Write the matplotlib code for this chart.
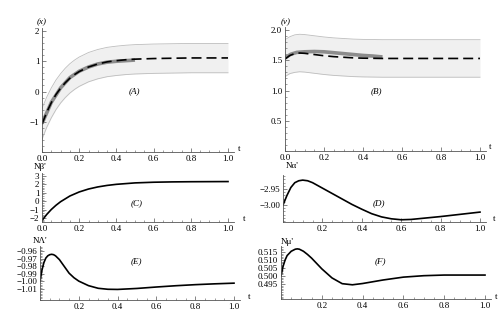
import matplotlib
matplotlib.use("Agg")
import matplotlib.pyplot as plt
from matplotlib.ticker import MultipleLocator

plt.rcParams['font.family'] = ['Liberation Serif', 'DejaVu Serif']
plt.rcParams['font.size'] = 6.5

W, H = 504, 328

# ---------------- data ----------------
tA = [0, 0.025, 0.05, 0.075, 0.1, 0.125, 0.15, 0.175, 0.2, 0.25, 0.3, 0.35, 0.4, 0.45, 0.5, 0.6, 0.7, 0.8, 0.9, 1.0]
meanA = [-1.08, -0.69, -0.37, -0.10, 0.11, 0.29, 0.44, 0.56, 0.66, 0.81, 0.91, 0.98, 1.02, 1.05, 1.07, 1.09, 1.10, 1.11, 1.11, 1.11]
upperA = [-0.56, -0.19, 0.12, 0.38, 0.59, 0.77, 0.92, 1.04, 1.14, 1.29, 1.39, 1.46, 1.50, 1.53, 1.55, 1.57, 1.58, 1.59, 1.59, 1.59]
lowerA = [-1.58, -1.19, -0.87, -0.60, -0.38, -0.20, -0.05, 0.07, 0.17, 0.32, 0.42, 0.49, 0.53, 0.56, 0.58, 0.60, 0.61, 0.62, 0.62, 0.62]
tA_obs = [0, 0.05, 0.1, 0.15, 0.2, 0.25, 0.3, 0.35, 0.4, 0.45, 0.5]
obsA = [-1.06, -0.36, 0.12, 0.46, 0.67, 0.81, 0.91, 0.97, 1.00, 1.02, 1.04]

tB = [0, 0.025, 0.05, 0.075, 0.1, 0.15, 0.2, 0.25, 0.3, 0.35, 0.4, 0.5, 0.6, 0.7, 0.8, 0.9, 1.0]
meanB = [1.52, 1.58, 1.61, 1.62, 1.615, 1.595, 1.575, 1.56, 1.55, 1.54, 1.535, 1.53, 1.53, 1.53, 1.53, 1.53, 1.53]
upperB = [1.84, 1.89, 1.92, 1.93, 1.925, 1.905, 1.885, 1.87, 1.86, 1.85, 1.845, 1.84, 1.84, 1.84, 1.84, 1.84, 1.84]
lowerB = [1.23, 1.28, 1.30, 1.31, 1.305, 1.285, 1.265, 1.25, 1.24, 1.23, 1.225, 1.22, 1.22, 1.22, 1.22, 1.22, 1.22]
tB_obs = [0, 0.03, 0.06, 0.1, 0.15, 0.2, 0.25, 0.3, 0.35, 0.4, 0.45, 0.5]
obsB = [1.54, 1.60, 1.63, 1.64, 1.645, 1.64, 1.625, 1.61, 1.595, 1.58, 1.57, 1.555]

tC = [0, 0.025, 0.05, 0.075, 0.1, 0.15, 0.2, 0.25, 0.3, 0.35, 0.4, 0.5, 0.6, 0.7, 0.8, 0.9, 1.0]
betaC = [-2.30, -1.59, -0.99, -0.49, -0.06, 0.62, 1.10, 1.45, 1.70, 1.88, 2.01, 2.18, 2.26, 2.30, 2.32, 2.33, 2.34]

tD = [0, 0.02, 0.04, 0.06, 0.08, 0.1, 0.125, 0.15, 0.2, 0.25, 0.3, 0.35, 0.4, 0.45, 0.5, 0.55, 0.6, 0.65, 0.7, 0.8, 0.9, 1.0]
alphaD = [-3.000, -2.970, -2.945, -2.930, -2.924, -2.922, -2.924, -2.930, -2.947, -2.964, -2.981, -2.998, -3.013, -3.027, -3.037, -3.043, -3.046, -3.045, -3.042, -3.036, -3.029, -3.022]

tE = [0, 0.01, 0.02, 0.03, 0.04, 0.05, 0.06, 0.07, 0.08, 0.1, 0.125, 0.15, 0.175, 0.2, 0.25, 0.3, 0.35, 0.4, 0.5, 0.6, 0.7, 0.8, 0.9, 1.0]
lambdaE = [-1.000, -0.985, -0.975, -0.969, -0.966, -0.9645, -0.964, -0.9645, -0.966, -0.971, -0.980, -0.989, -0.995, -0.9995, -1.0055, -1.009, -1.0103, -1.0105, -1.0092, -1.0073, -1.0056, -1.0042, -1.0031, -1.0022]

tF = [0, 0.01, 0.02, 0.03, 0.05, 0.07, 0.08, 0.09, 0.11, 0.13, 0.15, 0.2, 0.25, 0.3, 0.35, 0.4, 0.5, 0.6, 0.7, 0.8, 0.9, 1.0]
muF = [0.500, 0.506, 0.510, 0.5128, 0.5155, 0.5168, 0.517, 0.5168, 0.5155, 0.5135, 0.5112, 0.5045, 0.4988, 0.4952, 0.4945, 0.4953, 0.4975, 0.4993, 0.5002, 0.5006, 0.5006, 0.5006]

xticks_full = [0.0, 0.2, 0.4, 0.6, 0.8, 1.0]
xticks_part = [0.2, 0.4, 0.6, 0.8, 1.0]

# ---------------- layout helpers ----------------
fig = plt.figure(figsize=(W / 100, H / 100), dpi=100)


def make_ax(x0, x1px, ybot, ytop, xmax, ylim):
    width = (x1px - x0) * xmax
    ax = fig.add_axes([x0 / W, 1 - ybot / H, width / W, (ybot - ytop) / H])
    ax.set_xlim(0, xmax)
    ax.set_ylim(*ylim)
    for s in ['top', 'right']:
        ax.spines[s].set_visible(False)
    for s in ['left', 'bottom']:
        ax.spines[s].set_color('#555555')
        ax.spines[s].set_linewidth(0.6)
    ax.tick_params(direction='in', which='major', length=3, width=0.5, color='#555555', pad=2, labelsize=6.5)
    ax.tick_params(direction='in', which='minor', length=1.6, width=0.4, color='#555555')
    ax.xaxis.set_minor_locator(MultipleLocator(0.05))
    ax.set_facecolor('none')
    return ax


def px(x, y):
    return x / W, 1 - y / H


def label(x, y, s, size=6.5, style='normal', ha='center'):
    fig.text(*px(x, y), s, fontsize=size, style=style, ha=ha, va='center')


def set_xt(ax, ticks):
    ax.set_xticks(ticks)
    ax.set_xticklabels([f"{v:.1f}" for v in ticks])


def set_yt(ax, ticks, fmt):
    ax.set_yticks(ticks)
    ax.set_yticklabels([fmt(v).replace('-', '\u2212') for v in ticks])

band_face = '#f0f0f0'
band_edge = '#bdbdbd'
obs_color = '#8c8c8c'

# Panel A
axA = make_ax(42, 228, 152, 28, 1.03, (-2, 2.1))
axA.fill_between(tA, lowerA, upperA, color=band_face, lw=0)
axA.plot(tA, upperA, color=band_edge, lw=0.6)
axA.plot(tA, lowerA, color=band_edge, lw=0.6)
axA.plot(tA_obs, obsA, color=obs_color, lw=2.6, solid_capstyle='butt')
axA.plot(tA, meanA, color='black', lw=1.2, dashes=(6, 3))
set_xt(axA, xticks_full)
set_yt(axA, [-1, 0, 1, 2], lambda v: f"{v:d}")
axA.yaxis.set_minor_locator(MultipleLocator(0.2))

# Panel B
axB = make_ax(285, 480, 151, 27, 1.03, (0, 2.05))
axB.fill_between(tB, lowerB, upperB, color=band_face, lw=0)
axB.plot(tB, upperB, color=band_edge, lw=0.6)
axB.plot(tB, lowerB, color=band_edge, lw=0.6)
axB.plot(tB_obs, obsB, color=obs_color, lw=2.6, solid_capstyle='butt')
axB.plot(tB, meanB, color='black', lw=1.2, dashes=(6, 3))
set_xt(axB, xticks_full)
set_yt(axB, [0.5, 1.0, 1.5, 2.0], lambda v: f"{v:.1f}")
axB.yaxis.set_minor_locator(MultipleLocator(0.1))

# Panel C
axC = make_ax(42, 228, 222, 173, 1.03, (-2.48, 3.36))
axC.plot(tC, betaC, color='black', lw=1.2)
set_xt(axC, xticks_full)
set_yt(axC, [-2, -1, 0, 1, 2, 3], lambda v: f"{v:d}")
axC.yaxis.set_minor_locator(MultipleLocator(0.2))

# Panel D
axD = make_ax(283, 480, 222, 175, 1.03, (-3.053, -2.906))
axD.plot(tD, alphaD, color='black', lw=1.2)
set_xt(axD, xticks_part)
set_yt(axD, [-3.00, -2.95], lambda v: f"{v:.2f}")
axD.yaxis.set_minor_locator(MultipleLocator(0.01))

# Panel E
axE = make_ax(40, 234, 300, 246, 1.03, (-1.0245, -0.953))
axE.plot(tE, lambdaE, color='black', lw=1.2)
set_xt(axE, xticks_part)
set_yt(axE, [-1.01, -1.00, -0.99, -0.98, -0.97, -0.96], lambda v: f"{v:.2f}")
axE.yaxis.set_minor_locator(MultipleLocator(0.002))

# Panel F
axF = make_ax(281, 485, 299, 246, 1.03, (0.4856, 0.5188))
axF.plot(tF, muF, color='black', lw=1.2)
set_xt(axF, xticks_part)
set_yt(axF, [0.495, 0.500, 0.505, 0.510, 0.515], lambda v: f"{v:.3f}")
axF.yaxis.set_minor_locator(MultipleLocator(0.001))

# axis titles
label(42, 22, '(x)', style='italic')
label(286, 22, '(v)', style='italic')
label(40, 167, "N\u03b2'")
label(292, 166, "N\u03b1'")
label(40, 241, "N\u039b'")
label(287, 242, "N\u03bc'")
for (x, y) in [(239, 149), (490, 147), (244, 219), (494, 219), (249, 297), (496, 297)]:
    label(x, y, 't')

# panel labels
for (x, y, s) in [(134, 91, '(A)'), (376, 91, '(B)'), (137, 203, '(C)'),
                  (379, 203, '(D)'), (136, 261, '(E)'), (380, 261, '(F)')]:
    label(x, y, s, style='italic')

fig.savefig('out.png', dpi=100)
